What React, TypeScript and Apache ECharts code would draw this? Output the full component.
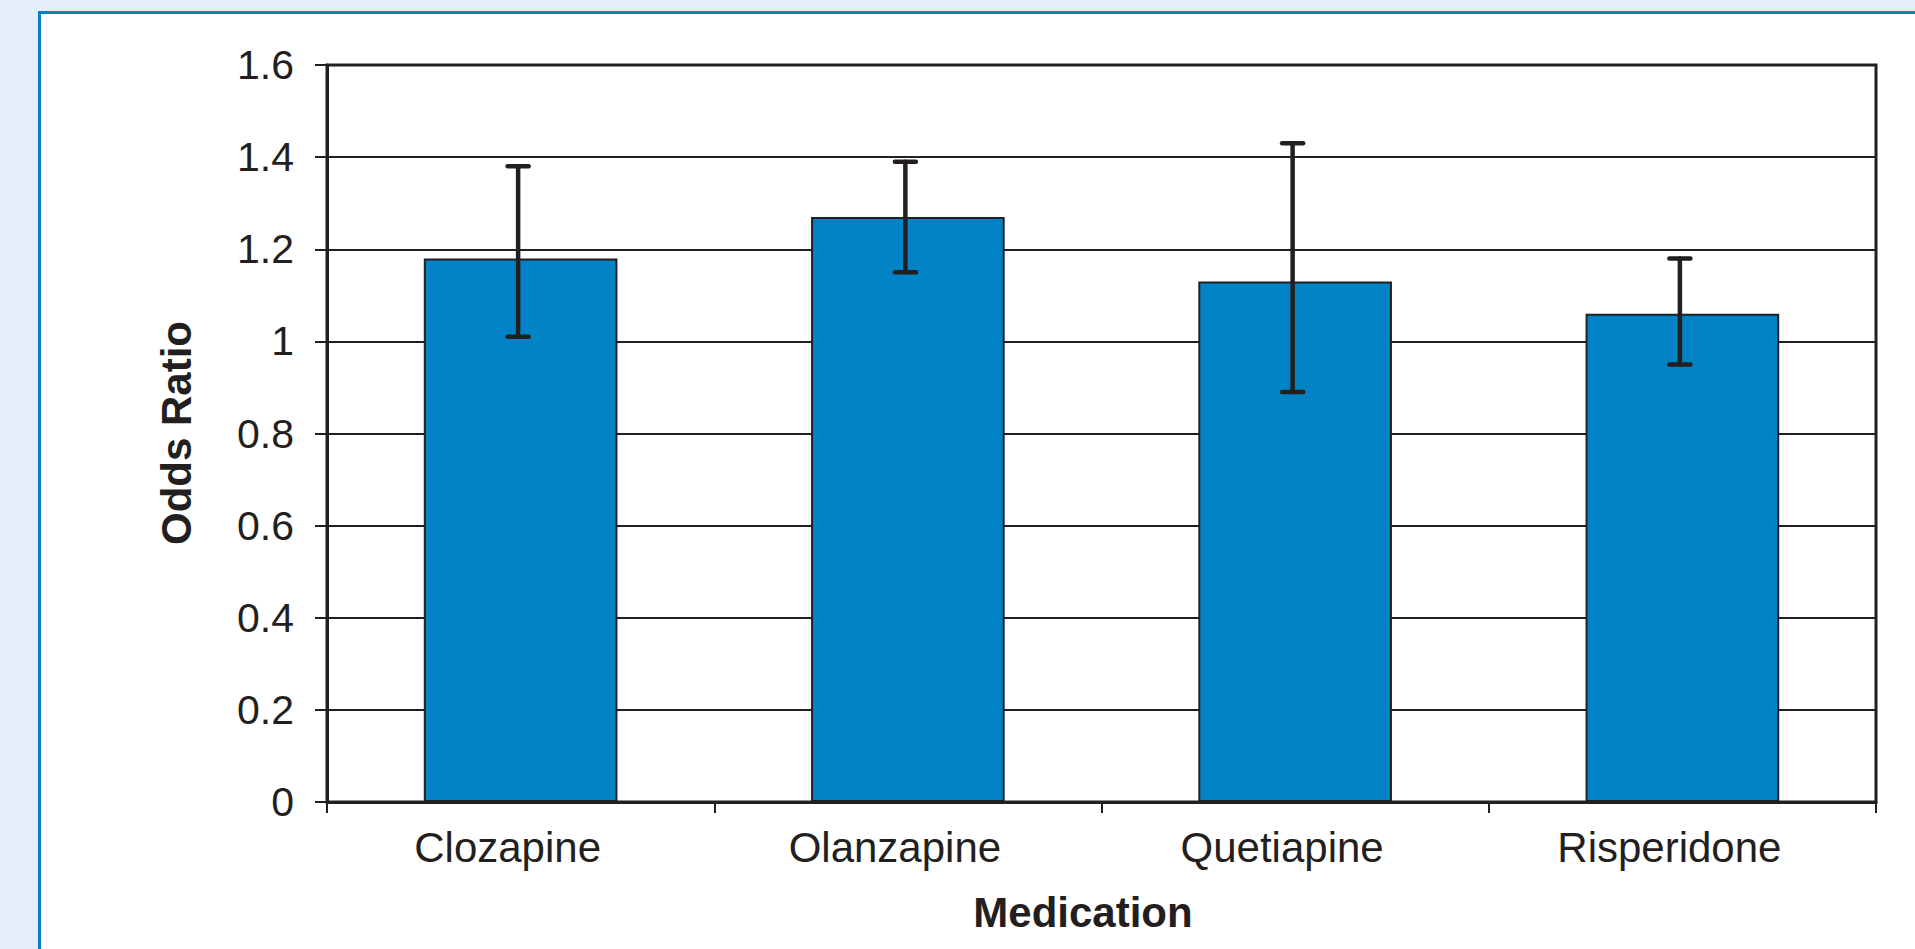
import React, { useEffect, useRef } from "react";
import * as echarts from "echarts";

const categories = ["Clozapine", "Olanzapine", "Quetiapine", "Risperidone"];
const oddsRatio = [1.18, 1.27, 1.13, 1.06];
const ciLower = [1.01, 1.15, 0.89, 0.95];
const ciUpper = [1.38, 1.39, 1.43, 1.18];
const yMin = 0;
const yMax = 1.6;
const yInterval = 0.2;
const xTitle = "Medication";
const yTitle = "Odds Ratio";

const INK = "#231F20";
const BAR = "#0283C5";
const FONT = "'Liberation Sans', Arial, Helvetica, sans-serif";

export default function App() {
  const ref = useRef<HTMLDivElement>(null);

  useEffect(() => {
    document.body.style.margin = "0";
    if (!ref.current) return;
    const chart = echarts.init(ref.current, undefined, { renderer: "svg" });
    const errData = categories.map((_, i) => [i, ciLower[i], ciUpper[i]]);
    chart.setOption({
      animation: false,
      backgroundColor: "transparent",
      grid: {
        left: 327,
        top: 65,
        right: 39,
        bottom: 147,
        show: true,
        borderColor: INK,
        borderWidth: 3,
        backgroundColor: "transparent",
      },
      xAxis: {
        type: "category",
        data: categories,
        boundaryGap: true,
        axisLine: { show: true, lineStyle: { color: INK, width: 3 } },
        axisTick: { show: true, alignWithLabel: false, length: 11, lineStyle: { color: INK, width: 2 } },
        axisLabel: { color: INK, fontSize: 42, fontFamily: FONT, margin: 24, padding: [0, 26, 0, 0] },
        splitLine: { show: false },
      },
      yAxis: {
        type: "value",
        min: yMin,
        max: yMax,
        interval: yInterval,
        axisLine: { show: true, lineStyle: { color: INK, width: 3 } },
        axisTick: { show: true, length: 12, lineStyle: { color: INK, width: 2 } },
        axisLabel: { color: INK, fontSize: 41, fontFamily: FONT, margin: 33 },
        splitLine: { show: true, lineStyle: { color: INK, width: 2 } },
      },
      graphic: [
        {
          type: "text",
          x: 1083,
          y: 912,
          style: {
            text: xTitle,
            fontSize: 42,
            fontWeight: "bold",
            fontFamily: FONT,
            fill: INK,
            align: "center",
            verticalAlign: "middle",
          },
        },
        {
          type: "text",
          x: 176,
          y: 433,
          rotation: Math.PI / 2,
          style: {
            text: yTitle,
            fontSize: 42,
            fontWeight: "bold",
            fontFamily: FONT,
            fill: INK,
            align: "center",
            verticalAlign: "middle",
          },
        },
      ],
      series: [
        {
          type: "bar",
          data: oddsRatio,
          barWidth: "50%",
          itemStyle: { color: BAR, borderColor: INK, borderWidth: 2 },
          z: 2,
        },
        {
          type: "custom",
          data: errData,
          encode: { x: 0, y: [1, 2] },
          z: 5,
          renderItem: (params: any, api: any) => {
            const idx = api.value(0);
            const lo = api.coord([idx, api.value(1)]);
            const hi = api.coord([idx, api.value(2)]);
            const cx = lo[0] - 2.5;
            const half = 10.5;
            const style = { stroke: INK, lineWidth: 4.5, lineCap: "round" };
            return {
              type: "group",
              children: [
                { type: "line", shape: { x1: cx, y1: hi[1], x2: cx, y2: lo[1] }, style },
                { type: "line", shape: { x1: cx - half, y1: hi[1], x2: cx + half, y2: hi[1] }, style },
                { type: "line", shape: { x1: cx - half, y1: lo[1], x2: cx + half, y2: lo[1] }, style },
              ],
            };
          },
        },
      ],
    });
    return () => chart.dispose();
  }, []);

  return (
    <div style={{ position: "fixed", left: 0, top: 0, width: 1915, height: 949, background: "#E3EEF8", overflow: "hidden" }}>
      <div
        style={{
          position: "absolute",
          left: 38,
          top: 11,
          right: 0,
          bottom: 0,
          background: "#FFFFFF",
          borderLeft: "3px solid #0A80C6",
          borderTop: "3px solid #0A80C6",
        }}
      />
      <div ref={ref} style={{ position: "absolute", left: 0, top: 0, width: 1915, height: 949 }} />
    </div>
  );
}
